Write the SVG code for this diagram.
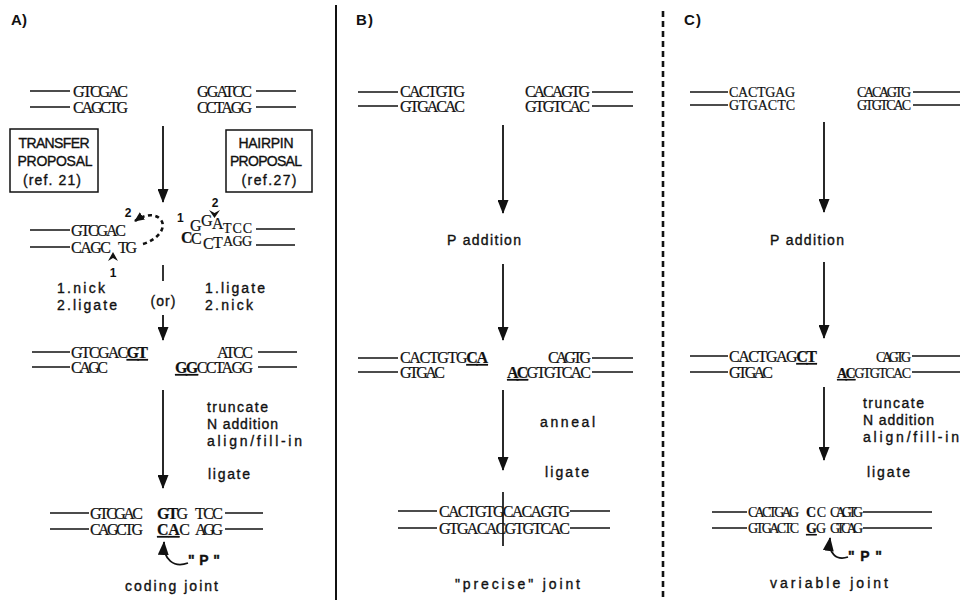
<svg xmlns="http://www.w3.org/2000/svg" width="960" height="600" viewBox="0 0 960 600">
<style>
.seq{font-family:"Liberation Serif","Times New Roman",serif;font-size:16px;fill:#111;stroke:#111;stroke-width:0.2;}
.sm{font-size:14px;}
.lab{font-family:"Liberation Sans",Arial,sans-serif;font-size:14px;fill:#111;stroke:#111;stroke-width:0.35;}
.ttl{font-family:"Liberation Sans",Arial,sans-serif;font-size:15px;font-weight:bold;fill:#111;}
.num{font-family:"Liberation Sans",Arial,sans-serif;font-size:12px;font-weight:bold;fill:#111;}
.ln{stroke:#111;stroke-width:1.7;fill:none;}
.ar{stroke:#111;stroke-width:1.8;fill:none;marker-end:url(#ah);}
.b{font-weight:bold;}
.u{text-decoration:underline;}
.box{fill:#fff;stroke:#111;stroke-width:1.5;}
</style>
<defs>
<marker id="ah" markerUnits="userSpaceOnUse" markerWidth="14" markerHeight="11" refX="13" refY="5.5" orient="auto">
<path d="M0,0 L14,5.5 L0,11 z" fill="#111"/>
</marker>
<marker id="ahs" markerUnits="userSpaceOnUse" markerWidth="10" markerHeight="9" refX="9" refY="4.5" orient="auto">
<path d="M0,0 L10,4.5 L0,9 z" fill="#111"/>
</marker>
</defs>
<rect width="960" height="600" fill="#fff"/>

<g id="dividers">
<line x1="336" y1="5" x2="336" y2="600" stroke="#111" stroke-width="2"/>
<line x1="663" y1="11" x2="663" y2="600" stroke="#111" stroke-width="2.6" stroke-dasharray="6 4"/>
</g>
<g id="titles">
<text class="ttl" x="11" y="25" textLength="16">A)</text>
<text class="ttl" x="356" y="25" textLength="17">B)</text>
<text class="ttl" x="684" y="25" textLength="17">C)</text>
</g>

<!-- ===== Panel A ===== -->
<g id="A-start">
<line class="ln" x1="30" y1="91" x2="70" y2="91"/>
<line class="ln" x1="30" y1="107" x2="70" y2="107"/>
<text class="seq" x="73" y="97" textLength="55">GTCGAC</text>
<text class="seq" x="73" y="113" textLength="55">CAGCTG</text>
<text class="seq" x="197" y="97" textLength="55">GGATCC</text>
<text class="seq" x="197" y="113" textLength="55">CCTAGG</text>
<line class="ln" x1="256" y1="91" x2="296" y2="91"/>
<line class="ln" x1="256" y1="107" x2="296" y2="107"/>
</g>
<g id="A-transfer-box">
<rect class="box" x="10" y="129" width="88" height="63"/>
<text class="lab" x="54" y="148" text-anchor="middle" textLength="71">TRANSFER</text>
<text class="lab" x="55" y="166" text-anchor="middle" textLength="75">PROPOSAL</text>
<text class="lab" x="52" y="185" text-anchor="middle" font-size="11" textLength="58">(ref.  21)</text>
</g>
<g id="A-hairpin-box">
<rect class="box" x="226" y="130" width="86" height="62"/>
<text class="lab" x="266" y="148" text-anchor="middle" textLength="55">HAIRPIN</text>
<text class="lab" x="266" y="166" text-anchor="middle" textLength="72">PROPOSAL</text>
<text class="lab" x="269" y="185" text-anchor="middle" font-size="11" textLength="55">(ref.27)</text>
</g>
<g id="A-transfer-intermediate">
<line class="ln" x1="30" y1="230" x2="70" y2="230"/>
<line class="ln" x1="30" y1="247" x2="70" y2="247"/>
<text class="seq" x="71" y="236" textLength="55">GTCGAC</text>
<text class="seq" x="71" y="253" textLength="40">CAGC</text>
<text class="seq" x="118" y="253" textLength="19">TG</text>
<path d="M108,261 L113,252 L118,261 L113,258 z" fill="#111"/>
<text class="num" x="113" y="277" text-anchor="middle">1</text>
<text class="num" x="128" y="217" text-anchor="middle">2</text>
<path d="M143,244 C157,240 167,228 161,220 C156,213 145,214 135,221" stroke="#111" stroke-width="2.6" fill="none" stroke-dasharray="4 3.5" marker-end="url(#ahs)"/>
<text class="lab" x="57" y="293" textLength="48">1.nick</text>
<text class="lab" x="57" y="310" textLength="60">2.ligate</text>
</g>
<g id="A-hairpin-intermediate">
<text class="num" x="177" y="222" font-size="11">1</text>
<text class="num" x="215" y="207" text-anchor="middle">2</text>
<path d="M209,210 L214.5,218 L220,210 L214.5,213 z" fill="#111"/>
<text class="seq" x="190" y="231" font-size="11">G</text>
<text class="seq" x="201" y="226" font-size="13">G</text>
<text class="seq" x="212" y="229" font-size="13">A</text>
<text class="seq sm" x="223" y="233" textLength="29">TCC</text>
<text class="seq" x="181" y="243" font-size="19" font-weight="bold">C</text>
<text class="seq" x="191" y="244" font-size="11">C</text>
<text class="seq" x="203" y="249" font-size="12">C</text>
<text class="seq" x="213" y="248" font-size="13">T</text>
<text class="seq sm" x="223" y="246" textLength="29">AGG</text>
<line class="ln" x1="256" y1="229" x2="295" y2="229"/>
<line class="ln" x1="256" y1="245" x2="295" y2="245"/>
<text class="lab" x="205" y="293" textLength="60">1.ligate</text>
<text class="lab" x="205" y="310" textLength="48">2.nick</text>
</g>
<g id="A-or">
<text class="lab" x="163" y="306" text-anchor="middle" textLength="25">(or)</text>
</g>
<g id="A-open-ends">
<line class="ln" x1="32" y1="352" x2="70" y2="352"/>
<line class="ln" x1="32" y1="367" x2="70" y2="367"/>
<text class="seq" x="71" y="358" textLength="77">GTCGAC<tspan class="b u">GT</tspan></text>
<text class="seq" x="71" y="373" textLength="37">CAGC</text>
<text class="seq" x="217" y="358" textLength="36">ATCC</text>
<text class="seq" x="175" y="373" textLength="78"><tspan class="b u">GG</tspan>CCTAGG</text>
<line class="ln" x1="258" y1="352" x2="297" y2="352"/>
<line class="ln" x1="258" y1="367" x2="297" y2="367"/>
<text class="lab" x="207" y="412" textLength="61">truncate</text>
<text class="lab" x="207" y="429" textLength="71">N addition</text>
<text class="lab" x="207" y="446" textLength="95">align/fill-in</text>
<text class="lab" x="208" y="479" textLength="42">ligate</text>
</g>
<g id="A-coding-joint">
<line class="ln" x1="50" y1="513" x2="89" y2="513"/>
<line class="ln" x1="50" y1="529" x2="89" y2="529"/>
<text class="seq" x="90" y="519" textLength="53">GTCGAC</text>
<text class="seq" x="90" y="535" textLength="53">CAGCTG</text>
<text class="seq" x="157" y="519" textLength="31"><tspan class="b">GT</tspan>G</text>
<text class="seq" x="157" y="535" textLength="33"><tspan class="b u">CA</tspan>C</text>
<text class="seq" x="195" y="519" textLength="28">TCC</text>
<text class="seq" x="195" y="535" textLength="28">AGG</text>
<line class="ln" x1="225" y1="513" x2="263" y2="513"/>
<line class="ln" x1="225" y1="529" x2="263" y2="529"/>
<text class="lab" x="188" y="565" font-weight="bold" textLength="32">"P"</text>
<text class="lab" x="125" y="591" textLength="93">coding  joint</text>
</g>

<!-- ===== Panel B ===== -->
<g id="B-start">
<line class="ln" x1="358" y1="92" x2="398" y2="92"/>
<line class="ln" x1="358" y1="106" x2="398" y2="106"/>
<text class="seq" x="400" y="97" textLength="65">CACTGTG</text>
<text class="seq" x="400" y="112" textLength="65">GTGACAC</text>
<text class="seq" x="525" y="97" textLength="65">CACAGTG</text>
<text class="seq" x="525" y="112" textLength="65">GTGTCAC</text>
<line class="ln" x1="592" y1="92" x2="633" y2="92"/>
<line class="ln" x1="592" y1="106" x2="633" y2="106"/>
</g>
<g id="B-p-addition">
<text class="lab" x="447" y="245" textLength="74">P  addition</text>
</g>
<g id="B-open-ends">
<line class="ln" x1="358" y1="358" x2="398" y2="358"/>
<line class="ln" x1="358" y1="372" x2="398" y2="372"/>
<text class="seq" x="400" y="363" textLength="88">CACTGTG<tspan class="b u">CA</tspan></text>
<text class="seq" x="400" y="378" textLength="45">GTGAC</text>
<text class="seq" x="548" y="363" textLength="43">CAGTG</text>
<text class="seq" x="507" y="378" textLength="84"><tspan class="b u">AC</tspan>GTGTCAC</text>
<line class="ln" x1="592" y1="358" x2="633" y2="358"/>
<line class="ln" x1="592" y1="372" x2="633" y2="372"/>
<text class="lab" x="540" y="427" textLength="55">anneal</text>
<text class="lab" x="545" y="477" textLength="44">ligate</text>
</g>
<g id="B-precise-joint">
<line class="ln" x1="398" y1="511" x2="437" y2="511"/>
<line class="ln" x1="398" y1="528" x2="437" y2="528"/>
<text class="seq" x="439" y="517" textLength="131">CACTGTGCACAGTG</text>
<text class="seq" x="439" y="534" textLength="131">GTGACACGTGTCAC</text>
<line class="ln" x1="570" y1="511" x2="610" y2="511"/>
<line class="ln" x1="570" y1="528" x2="610" y2="528"/>
<line class="ln" x1="503" y1="492" x2="503" y2="546"/>
<text class="lab" x="455" y="589" textLength="125">"precise"  joint</text>
</g>

<!-- ===== Panel C ===== -->
<g id="C-start">
<line class="ln" x1="690" y1="92" x2="728" y2="92"/>
<line class="ln" x1="690" y1="105" x2="728" y2="105"/>
<text class="seq sm" x="729" y="97" textLength="66">CACTGAG</text>
<text class="seq sm" x="729" y="110" textLength="66">GTGACTC</text>
<text class="seq sm" x="857" y="97" textLength="54">CACAGTG</text>
<text class="seq sm" x="857" y="110" textLength="54">GTGTCAC</text>
<line class="ln" x1="913" y1="92" x2="960" y2="92"/>
<line class="ln" x1="913" y1="105" x2="960" y2="105"/>
</g>
<g id="C-p-addition">
<text class="lab" x="770" y="245" textLength="74">P  addition</text>
</g>
<g id="C-open-ends">
<line class="ln" x1="690" y1="356" x2="728" y2="356"/>
<line class="ln" x1="690" y1="372" x2="728" y2="372"/>
<text class="seq" x="729" y="362" textLength="88">CACTGAG<tspan class="b u">CT</tspan></text>
<text class="seq" x="729" y="378" textLength="44">GTGAC</text>
<text class="seq sm" x="876" y="362" textLength="35">CAGTG</text>
<text class="seq sm" x="837" y="378" textLength="74"><tspan class="b u">AC</tspan>GTGTCAC</text>
<line class="ln" x1="912" y1="356" x2="960" y2="356"/>
<line class="ln" x1="912" y1="372" x2="960" y2="372"/>
<text class="lab" x="863" y="408" textLength="61">truncate</text>
<text class="lab" x="863" y="425" textLength="71">N addition</text>
<text class="lab" x="863" y="442" textLength="96">align/fill-in</text>
<text class="lab" x="867" y="477" textLength="43">ligate</text>
</g>
<g id="C-variable-joint">
<line class="ln" x1="712" y1="512" x2="747" y2="512"/>
<line class="ln" x1="712" y1="528" x2="747" y2="528"/>
<text class="seq sm" x="748" y="517" textLength="51">CACTGAG</text>
<text class="seq sm" x="748" y="533" textLength="51">GTGACTC</text>
<text class="seq sm" x="806" y="517" textLength="20"><tspan class="b">C</tspan>C</text>
<text class="seq sm" x="806" y="533" textLength="20"><tspan class="b u">G</tspan>G</text>
<text class="seq sm" x="830" y="517" textLength="33">CAGTG</text>
<text class="seq sm" x="830" y="533" textLength="33">GTCAG</text>
<line class="ln" x1="863" y1="512" x2="932" y2="512"/>
<line class="ln" x1="863" y1="528" x2="932" y2="528"/>
<text class="lab" x="848" y="561" font-weight="bold" textLength="34">"P"</text>
<text class="lab" x="770" y="588" textLength="118">variable  joint</text>
</g>

<!-- ===== Connectors ===== -->
<g id="connectors">
<line class="ar" x1="163" y1="126" x2="163" y2="202"/>
<line class="ln" x1="163" y1="265" x2="163" y2="281"/>
<line class="ar" x1="163" y1="315" x2="163" y2="340"/>
<line class="ar" x1="163" y1="390" x2="163" y2="488"/>
<path class="ar" d="M188,563 C174,568 163,560 164,542" stroke-width="2"/>
<line class="ar" x1="503" y1="125" x2="503" y2="213"/>
<line class="ar" x1="503" y1="264" x2="503" y2="340"/>
<line class="ar" x1="503" y1="390" x2="503" y2="470"/>
<line class="ar" x1="824" y1="122" x2="824" y2="212"/>
<line class="ar" x1="824" y1="262" x2="824" y2="338"/>
<line class="ar" x1="824" y1="387" x2="824" y2="460"/>
<path class="ar" d="M848,557 C836,561 828,553 830,538" stroke-width="2"/>
</g>
</svg>
